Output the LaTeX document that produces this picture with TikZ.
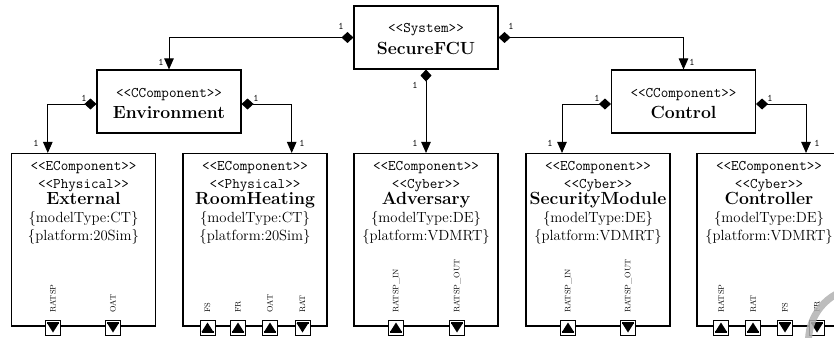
\documentclass[tikz,border=0pt]{standalone}
\usepackage{fontspec}
\usetikzlibrary{arrows.meta}

% font sizes (picture unit: 1pt)
\newcommand\stfont{\fontsize{14.7}{17}\selectfont\ttfamily}
\newcommand\namefont{\fontsize{17.6}{20}\selectfont\bfseries}
\newcommand\propfont{\fontsize{14.7}{17}\selectfont\rmfamily}
\newcommand\portfont{\fontsize{7.9}{8.5}\selectfont\rmfamily}
\newcommand\multfont{\fontsize{10}{11}\selectfont\ttfamily}

\tikzset{
  umlbox/.style={draw, line width=1.1pt, rectangle, inner sep=0pt, fill=white},
  topbox/.style={umlbox, minimum width=144pt, minimum height=63pt},
  elembox/.style={umlbox, minimum width=144pt, minimum height=172.5pt},
  txt/.style={anchor=base, inner sep=0pt},
  conn/.style={line width=0.9pt,
    {Diamond[length=12pt,width=11pt]}-{Triangle[length=11pt,width=9.5pt]}},
  mult/.style={inner sep=0pt, font=\multfont},
  portbox/.style={draw, line width=0.8pt, fill=white, minimum width=15pt,
    minimum height=15pt, inner sep=0pt},
  portlbl/.style={anchor=west, rotate=90, inner sep=0pt, font=\portfont},
}

% composite block: name, centre x, centre y, stereotype, title
\newcommand\cblock[5]{%
  \node[topbox] (#1) at (#2,#3) {};
  \node[txt, font=\stfont] (#1-st) at (#2,{#3-31.5+27}) {<<#4>>};
  \node[txt, font=\namefont] (#1-nm) at (#2,{#3-31.5+48}) {#5};
}

% element block: name, centre x, stereotype, title, model type, platform
\newcommand\eblock[6]{%
  \node[elembox] (#1) at (#2,239.75) {};
  \node[txt, font=\stfont] (#1-st1) at (#2,170) {<<EComponent>>};
  \node[txt, font=\stfont] (#1-st2) at (#2,188) {<<#3>>};
  \node[txt, font=\namefont] (#1-nm) at (#2,204.5) {#4};
  \node[txt, font=\propfont] (#1-mt) at (#2,222.5) {\{modelType:#5\}};
  \node[txt, font=\propfont] (#1-pf) at (#2,240.5) {\{platform:#6\}};
}

% flow ports: name, x, label
\newcommand\inport[3]{%
  \node[portbox] (#1) at (#2,327.5) {};
  \fill ({#2-6},331) rectangle ({#2+6},333);
  \fill ({#2-6},332) -- ({#2+6},332) -- (#2,322.5) -- cycle;
  \node[portlbl] (#1-l) at (#2,313) {#3};
}
\newcommand\outport[3]{%
  \node[portbox] (#1) at (#2,327.5) {};
  \fill ({#2-6},322) rectangle ({#2+6},324);
  \fill ({#2-6},323) -- ({#2+6},323) -- (#2,332.5) -- cycle;
  \node[portlbl] (#1-l) at (#2,313) {#3};
}

\begin{document}
\begin{tikzpicture}[x=1pt, y=-1pt]
\useasboundingbox (0,0) rectangle (834,337);
\clip (0,0) rectangle (834,337);

% system and composite components
\cblock{sys}{426}{37.5}{System}{SecureFCU}
\cblock{env}{169}{101.5}{CComponent}{Environment}
\cblock{ctl}{683.5}{101.5}{CComponent}{Control}

% element components
\eblock{ext}{83.5}{Physical}{External}{CT}{20Sim}
\eblock{rh}{255}{Physical}{RoomHeating}{CT}{20Sim}
\eblock{adv}{426}{Cyber}{Adversary}{DE}{VDMRT}
\eblock{sm}{598}{Cyber}{SecurityModule}{DE}{VDMRT}
\eblock{ctr}{769}{Cyber}{Controller}{DE}{VDMRT}

% ports
\outport{extp1}{53}{RATSP}
\outport{extp2}{113}{OAT}
\inport{rhp1}{207.5}{FS}
\inport{rhp2}{238}{FR}
\inport{rhp3}{270}{OAT}
\outport{rhp4}{302.5}{RAT}
\inport{advp1}{396}{RATSP\_IN}
\outport{advp2}{457}{RATSP\_OUT}
\inport{smp1}{568}{RATSP\_IN}
\outport{smp2}{628}{RATSP\_OUT}
\inport{ctrp1}{721}{RATSP}
\inport{ctrp2}{753}{RAT}
\outport{ctrp3}{785}{FS}
\outport{ctrp4}{817}{FR}

% composition connectors
\draw[conn] (sys.west) -| (env.north);
\draw[conn] (sys.east) -| (ctl.north);
\draw[conn] (sys.south) -- (adv.north);
\draw[conn] ([yshift=-2.5pt]env.west) -| ([xshift=-35.7pt]ext.north);
\draw[conn] ([yshift=-2.5pt]env.east) -| ([xshift=36.7pt]rh.north);
\draw[conn] ([yshift=-2.5pt]ctl.west) -| ([xshift=-36pt]sm.north);
\draw[conn] ([yshift=-2.5pt]ctl.east) -| ([xshift=37pt]ctr.north);

% multiplicities
\node[mult] (m1) at (341,26) {1};
\node[mult] (m2) at (161,62) {1};
\node[mult] (m3) at (511,26) {1};
\node[mult] (m4) at (692,62) {1};
\node[mult] (m5) at (415,85) {1};
\node[mult] (m6) at (415,143) {1};
\node[mult] (m7) at (84,98) {1};
\node[mult] (m8) at (36,143) {1};
\node[mult] (m9) at (256,98) {1};
\node[mult] (m10) at (302,143) {1};
\node[mult] (m11) at (597,98) {1};
\node[mult] (m12) at (550,143) {1};
\node[mult] (m13) at (770,98) {1};
\node[mult] (m14) at (817,143) {1};

% grey ring in the lower right corner
\draw[line width=7pt, color=black!30, opacity=0.85] (862,341) circle[radius=53.5pt];
\end{tikzpicture}
\end{document}
